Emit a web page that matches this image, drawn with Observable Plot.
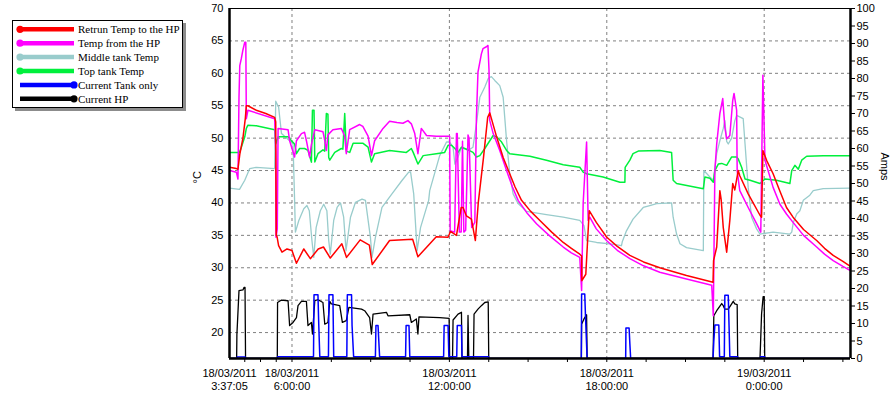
<!DOCTYPE html>
<html><head><meta charset="utf-8">
<script src="https://cdn.jsdelivr.net/npm/d3@7"></script>
<script src="https://cdn.jsdelivr.net/npm/@observablehq/plot@0.6"></script>
<style>
body{margin:0;background:#fff;}
#wrap{position:relative;width:893px;height:399px;overflow:hidden;}
#legend{position:absolute;left:12px;top:20px;width:169px;height:86px;border:1px solid #000;background:#fff;box-shadow:3px 3px 0 #8c8c8c;}
</style>
</head><body>
<div id="wrap"><div id="legend"></div></div>
<script>
// ---- Data (hours since 18/03/2011 00:00, value) ----
const seriesNames = ["Retrun Temp to the HP","Temp from the HP","Middle tank Temp","Top tank Temp","Current Tank only","Current HP"];
const seriesColors = ["#ff0000","#ff00ff","#99cccc","#00f03c","#0000ff","#000000"];

const returnTemp = [[3.618,45.5],[3.88,45.3],[3.94,45.2],[4.01,47.5],[4.13,50],[4.22,53],[4.26,55.0],[4.32,55.0],[4.64,54.3],[5.0,53.8],[5.34,53.2],[5.38,52.5],[5.40,35],[5.43,34.8],[5.49,33.4],[5.62,32.4],[5.81,32.9],[6.0,32.65],[6.17,30.7],[6.45,32.9],[6.70,31.4],[7.0,32.9],[7.2,33.2],[7.46,31.5],[7.9,33.7],[8.08,31.6],[8.6,34.3],[8.95,33.5],[9.06,30.5],[9.72,34.2],[10.6,34.4],[10.8,31.7],[11.5,34.8],[11.95,34.7],[12.04,35.6],[12.27,35.0],[12.45,39.3],[12.52,39.3],[12.65,38.0],[12.84,37.5],[12.99,34.2],[13.1,40],[13.3,47],[13.46,53.2],[13.54,53.9],[13.8,50.2],[14.05,47.0],[14.3,44.5],[14.5,42.5],[14.75,40.4],[15.1,38.7],[15.45,37.3],[15.9,35.5],[16.34,33.9],[16.65,33.0],[16.97,32.1],[17.04,31.8],[17.05,28.0],[17.20,29],[17.33,38.8],[17.6,37.0],[18.0,34.7],[18.4,33.3],[18.88,31.9],[19.4,30.9],[20.02,30.0],[21.04,28.8],[22.05,27.75],[22.07,31.1],[22.19,33.2],[22.31,41.9],[22.36,40.5],[22.44,36.2],[22.57,32.4],[22.69,37.3],[22.80,43.0],[22.88,42.0],[23.01,45.0],[23.07,44.2],[23.39,41.4],[23.84,38.1],[23.90,37.8],[23.95,48.1],[24.1,46.5],[24.34,44.5],[24.6,41.8],[24.85,39.3],[25.1,37.8],[25.5,35.9],[26.0,34.2],[26.3,33.0],[26.63,31.9],[27.0,31.0],[27.29,30.2]];

const fromTemp = [[3.618,45.0],[3.88,44.75],[3.94,43.7],[3.98,56.3],[4.01,61.2],[4.07,62.3],[4.13,63.6],[4.20,64.8],[4.24,64.8],[4.26,53.0],[4.32,54.3],[5.34,53.0],[5.38,48],[5.39,34.7],[5.44,36],[5.47,51.5],[5.85,51.3],[5.91,49.6],[6.10,47.1],[6.17,49.6],[6.36,50.7],[6.48,50.9],[6.55,49.6],[6.67,47.1],[6.74,49],[6.87,51.3],[7.18,51.0],[7.25,49.6],[7.31,48.1],[7.37,50.5],[7.56,51.3],[7.88,51.5],[8.01,50.3],[8.07,47.6],[8.2,51.3],[8.58,52.1],[8.7,51.8],[8.9,50.3],[9.03,47.3],[9.15,49.6],[9.47,51.5],[9.72,52.6],[10.0,52.4],[10.23,52.3],[10.42,52.7],[10.55,52.2],[10.68,50.7],[10.80,47.6],[10.93,51.5],[11.13,50.4],[11.5,50.3],[12.01,50.3],[12.03,35.7],[12.2,35.5],[12.27,50.7],[12.30,50.7],[12.38,35.5],[12.45,35.5],[12.5,49.5],[12.55,35.5],[12.62,35.8],[12.71,50.5],[12.75,50],[12.85,36.2],[12.97,37],[13.03,53.2],[13.09,60.2],[13.22,63.0],[13.28,63.8],[13.41,64.1],[13.47,64.3],[13.51,60.5],[13.54,52.7],[13.67,50.7],[13.92,48.1],[14.18,45.0],[14.4,42.5],[14.62,40.4],[14.95,38.5],[15.32,36.8],[15.8,35.0],[16.34,33.2],[16.65,32.3],[16.97,31.6],[17.04,26.5],[17.10,40],[17.23,49.4],[17.29,37.3],[17.35,37.8],[17.6,36.0],[17.99,34.2],[18.4,32.7],[18.88,31.4],[19.4,30.3],[20.02,29.3],[21.0,28.3],[22.0,27.3],[22.06,22.6],[22.12,45.0],[22.19,49.1],[22.31,53.8],[22.42,56.1],[22.50,51.7],[22.57,49.9],[22.69,50.4],[22.80,55.8],[22.85,56.9],[22.95,54.3],[22.97,45.0],[23.07,41.9],[23.39,39.3],[23.71,36.8],[23.87,35.5],[23.95,59.7],[24.03,46.6],[24.34,42.4],[24.6,39.8],[24.85,38.3],[25.1,37.0],[25.5,35.0],[26.0,33.2],[26.3,32.1],[26.63,31.1],[27.0,30.2],[27.29,29.55]];

const middleTemp = [[3.618,42.3],[4.0,42.1],[4.20,43.5],[4.39,45.3],[4.64,45.5],[5.34,45.3],[5.38,55.7],[5.49,54.8],[5.60,50.7],[5.91,49.6],[6.04,49.1],[6.10,40.4],[6.13,35.5],[6.26,37.3],[6.45,39.1],[6.57,39.6],[6.66,38.8],[6.76,34.2],[6.83,31.6],[6.92,36.2],[7.08,38.8],[7.21,39.8],[7.33,38.8],[7.40,34.2],[7.46,32.1],[7.59,37.3],[7.72,39.3],[7.85,40.0],[7.97,37.8],[8.06,32.65],[8.23,37.8],[8.42,40.1],[8.67,40.6],[8.80,40.4],[8.99,34.7],[9.05,31.6],[9.18,34.7],[9.43,39.3],[9.81,41.4],[10.20,43.5],[10.45,44.75],[10.52,44.8],[10.64,41.4],[10.77,32.65],[10.90,36.2],[11.21,40.4],[11.25,41.9],[11.63,47.3],[11.89,49.4],[12.01,49.4],[12.14,48.6],[12.21,46.0],[12.33,47.1],[12.46,48.6],[12.71,48.1],[12.90,48.6],[13.03,52.2],[13.16,56.3],[13.35,57.9],[13.48,59.2],[13.60,59.5],[13.73,58.9],[13.92,58.1],[14.05,56.3],[14.11,53.2],[14.18,49.6],[14.30,44.5],[14.43,41.4],[14.62,39.9],[14.94,38.7],[15.70,38.2],[16.34,37.8],[16.97,37.3],[17.13,36.5],[17.23,34.2],[17.61,33.9],[18.12,33.7],[18.56,33.4],[18.59,34],[18.75,35.7],[19.0,37.5],[19.39,39.3],[19.64,39.6],[19.90,39.9],[20.47,40.0],[20.53,37.8],[20.66,35.2],[20.79,33.7],[21.04,33.1],[21.68,32.65],[21.70,45.0],[21.93,44.0],[22.06,43.5],[22.19,47.6],[22.31,49.6],[22.44,51.5],[22.50,52.7],[22.57,49.5],[22.63,49.1],[22.76,50],[22.88,52.7],[22.95,53.5],[23.20,53.0],[23.27,49.1],[23.39,42.4],[23.52,37.8],[23.71,36.0],[23.84,35.2],[24.34,35.5],[24.98,35.2],[25.05,35.5],[25.11,37],[25.24,38.3],[25.36,38.8],[25.49,40.4],[25.74,41.2],[25.87,41.9],[26.25,42.2],[27.29,42.3]];

const topTemp = [[3.618,47.8],[4.0,47.8],[4.07,48.6],[4.20,50.2],[4.26,51.5],[4.32,52.0],[4.64,51.9],[5.34,51.3],[5.38,49.1],[5.47,50.2],[5.85,50.2],[5.98,49.6],[6.10,49.1],[6.17,47.6],[6.29,48.4],[6.48,48.4],[6.61,48.1],[6.74,46.3],[6.78,54.3],[6.84,54.3],[6.87,46.3],[6.99,47.6],[7.18,48.2],[7.25,48.0],[7.31,53.8],[7.37,53.7],[7.40,47.0],[7.44,46.6],[7.63,47.8],[7.88,48.4],[7.94,48.3],[8.01,53.8],[8.07,48],[8.2,47.8],[8.33,49.2],[8.71,49.2],[8.90,48.6],[9.03,46.3],[9.15,47.6],[9.72,48.1],[10.36,47.8],[10.55,48.4],[10.62,47.8],[10.80,46.0],[11.0,47.3],[11.5,47.6],[11.82,47.8],[11.95,48.9],[12.08,48.9],[12.21,48.4],[12.33,47.8],[12.46,48.6],[12.71,48.2],[12.90,47.8],[13.03,47.1],[13.16,47.3],[13.35,48.4],[13.54,49.6],[13.67,50.4],[13.80,50.2],[13.99,49.4],[14.18,48.1],[14.30,47.6],[15.07,47.2],[15.70,46.6],[16.34,45.9],[16.97,45.5],[17.10,44.75],[17.23,44.5],[17.86,44.0],[18.50,43.2],[18.69,43.2],[18.70,45.5],[18.88,46.6],[19.0,47.6],[19.20,48.0],[20.02,48.1],[20.47,47.8],[20.53,43.5],[20.66,43.0],[21.68,42.2],[21.74,44.0],[21.93,43.8],[22.06,43.2],[22.12,45.0],[22.25,46.0],[22.38,46.1],[22.57,45.8],[22.76,47.1],[22.95,47.1],[23.01,46.8],[23.14,45.5],[23.27,43.7],[23.46,43.5],[23.84,43.0],[24.03,43.7],[24.47,43.5],[24.98,43.0],[25.05,45.0],[25.17,45.8],[25.30,45.2],[25.43,46.6],[25.62,47.2],[26.25,47.3],[27.29,47.3]];

const currentTank = [[3.618,0],[3.90,0],[3.91,0.4],[4.22,0.4],[4.23,0],[5.44,0],[5.45,0.5],[6.82,0.5],[6.84,18.2],[6.99,18.2],[7.02,9.8],[7.06,0.5],[7.39,0.5],[7.41,18.2],[7.56,18.2],[7.59,0.5],[8.09,0.5],[8.11,18.2],[8.27,18.2],[8.29,9.4],[8.35,0.5],[9.18,0.5],[9.20,9.4],[9.28,9.4],[9.34,0.5],[10.33,0.5],[10.35,9.4],[10.46,9.4],[10.49,0.5],[11.78,0.5],[11.80,9.4],[11.95,9.4],[11.98,0.5],[12.28,0.5],[12.30,9.4],[12.46,9.4],[12.48,0.5],[13.50,0.5],[13.51,0],[17.03,0],[17.04,18.4],[17.16,18.4],[17.19,11.7],[17.25,0],[18.72,0],[18.73,8.7],[18.85,8.7],[18.88,4.1],[18.91,0],[22.05,0],[22.08,5.1],[22.12,9.55],[22.27,9.55],[22.30,0.5],[22.48,0.5],[22.50,18.1],[22.63,18.1],[22.66,9.4],[22.69,0.5],[22.99,0.5],[23.0,0],[23.85,0],[23.86,0.5],[24.02,0.5],[24.03,0],[27.29,0]];

const currentHP = [[3.618,0],[3.89,0],[3.90,6.8],[3.98,19.4],[4.13,19.6],[4.17,20.3],[4.21,20.3],[4.22,9.8],[4.23,0],[5.44,0],[5.45,16.0],[5.60,16.7],[5.85,16.5],[5.91,9.4],[6.04,10.3],[6.17,11.7],[6.23,15.1],[6.36,16.3],[6.55,16.3],[6.61,9.4],[6.74,10.3],[6.78,7.0],[6.87,16.5],[6.99,16.8],[7.18,16.0],[7.25,9.8],[7.37,10.3],[7.44,16.3],[7.50,15.6],[7.82,15.1],[7.92,10.3],[8.07,10.8],[8.17,14.6],[8.65,14.1],[8.77,13.65],[8.96,11.7],[9.03,7.0],[9.09,12.7],[9.60,13.2],[9.66,12.2],[10.49,12.5],[10.55,10.3],[10.74,11.3],[10.80,7.0],[10.84,11.9],[11.63,11.7],[11.99,11.45],[12.01,0],[12.12,0],[12.14,11.0],[12.33,12.7],[12.46,13.2],[12.48,0],[12.69,0],[12.71,12.3],[12.74,0],[12.92,0],[12.94,12.7],[13.09,14.1],[13.22,15.1],[13.35,16.0],[13.48,16.2],[13.50,0],[17.03,0],[17.04,9.8],[17.13,11.3],[17.23,12.5],[17.25,0],[22.05,0],[22.08,12.2],[22.19,13.65],[22.38,15.7],[22.44,15.1],[22.50,14.1],[22.63,14.1],[22.76,15.6],[22.82,16.3],[22.88,15.6],[22.97,15.4],[22.99,0],[23.84,0],[23.86,4.1],[23.90,12.7],[23.96,17.7],[24.00,17.7],[24.02,0],[27.29,0]];

// axis values
const tempTicks = [20,25,30,35,40,45,50,55,60,65,70];
const ampTicks = d3.range(0, 101, 5);
const xLabelHours = [3 + 37/60 + 5/3600, 6, 12, 18, 24];
const xLabelDates = ["18/03/2011","18/03/2011","18/03/2011","18/03/2011","19/03/2011"];
const xLabelTimes = ["3:37:05","6:00:00","12:00:00","18:00:00","0:00:00"];
const xTickHours = [4.2, 4.8, 5.4, 6, 7.5, 9, 10.5, 12, 13.5, 15, 16.5, 18, 19.5, 21, 22.5, 24, 25.5, 27];
const xGridHours = [6, 12, 18, 24];
const startH = 3 + 37/60 + 5/3600, endH = 27.29;
const tempDomain = [16, 70];
const ampDomain = [0, 100];

// ---- helpers ----
const T0 = Date.UTC(2011, 2, 18);
const toDate = h => new Date(T0 + h * 3600000);
const ampToY = a => tempDomain[0] + (a - ampDomain[0]) * (tempDomain[1] - tempDomain[0]) / (ampDomain[1] - ampDomain[0]);
const yToAmp = y => Math.round(ampDomain[0] + (y - tempDomain[0]) * (ampDomain[1] - ampDomain[0]) / (tempDomain[1] - tempDomain[0]));
const dateLab = new Map(xLabelHours.map((h, i) => [+toDate(h), xLabelDates[i]]));
const timeLab = new Map(xLabelHours.map((h, i) => [+toDate(h), xLabelTimes[i]]));

const gridStyle = {stroke: "#808080", strokeOpacity: 1, strokeDasharray: "3,3", strokeWidth: 1};
const lw = 1.3;

const marks = [
  Plot.gridY({ticks: tempTicks.filter(t => t < 70), ...gridStyle}),
  Plot.gridX({ticks: xGridHours.map(toDate), ...gridStyle}),
  // current lines (right axis)
  Plot.line(currentHP, {x: d => toDate(d[0]), y: d => ampToY(d[1]), stroke: seriesColors[5], strokeWidth: lw, clip: true}),
  Plot.line(currentTank, {x: d => toDate(d[0]), y: d => ampToY(d[1]), stroke: seriesColors[4], strokeWidth: 1.5, clip: true}),
  // temperature lines
  Plot.line(middleTemp, {x: d => toDate(d[0]), y: d => d[1], stroke: seriesColors[2], strokeWidth: lw, clip: true}),
  Plot.line(topTemp, {x: d => toDate(d[0]), y: d => d[1], stroke: seriesColors[3], strokeWidth: 1.5, clip: true}),
  Plot.line(fromTemp, {x: d => toDate(d[0]), y: d => d[1], stroke: seriesColors[1], strokeWidth: 1.5, clip: true}),
  Plot.line(returnTemp, {x: d => toDate(d[0]), y: d => d[1], stroke: seriesColors[0], strokeWidth: 1.5, clip: true}),
  // frame
  Plot.ruleY([tempDomain[1]], {stroke: "#000", strokeWidth: 1.2}),
  Plot.ruleY([tempDomain[0]], {stroke: "#000", strokeWidth: 2.5}),
  Plot.ruleX([toDate(startH)], {stroke: "#000", strokeWidth: 2.5}),
  Plot.ruleX([toDate(endH)], {stroke: "#000", strokeWidth: 2.5}),
  // left axis
  Plot.axisY({anchor: "left", ticks: tempTicks, tickSize: 0, tickPadding: 6, label: null}),
  Plot.text(["°C"], {frameAnchor: "left", dx: -32, rotate: -90, fontSize: 11}),
  // right axis (amps)
  Plot.axisY({anchor: "right", ticks: ampTicks.map(ampToY), tickFormat: yToAmp, tickSize: 4, tickPadding: 2, label: null}),
  Plot.text(["Amps"], {frameAnchor: "right", dx: 34, dy: -3, rotate: 90, fontSize: 11}),
  // x axis
  Plot.axisX({ticks: xTickHours.map(toDate), tickSize: 4, tickFormat: () => "", label: null}),
  Plot.axisX({ticks: xLabelHours.map(toDate), tickSize: 0, tickPadding: 11, tickFormat: d => dateLab.get(+d), label: null}),
  Plot.axisX({ticks: xLabelHours.map(toDate), tickSize: 0, tickPadding: 24, tickFormat: d => timeLab.get(+d), label: null})
];

const chart = Plot.plot({
  width: 893, height: 399,
  marginLeft: 229, marginRight: 43, marginTop: 8, marginBottom: 41,
  style: {fontFamily: "'Liberation Sans', Arial, sans-serif", fontSize: "11px", background: "#fff", color: "#000"},
  x: {type: "utc", domain: [toDate(startH), toDate(endH)]},
  y: {domain: tempDomain},
  marks
});
document.getElementById("wrap").prepend(chart);

// ---- legend ----
const lg = d3.select("#legend").append("svg").attr("width", 169).attr("height", 86);
seriesNames.forEach((name, i) => {
  const cy = 8.3 + i * 13.9;
  const g = lg.append("g");
  g.append("line").attr("x1", 7).attr("x2", 61).attr("y1", cy).attr("y2", cy)
    .attr("stroke", seriesColors[i]).attr("stroke-width", 4.5);
  g.append("circle").attr("cx", i < 4 ? 7 : 61).attr("cy", cy).attr("r", 3.6).attr("fill", seriesColors[i]);
  g.append("text").attr("x", 65).attr("y", cy).attr("dy", "0.35em")
    .attr("font-family", "'Liberation Serif', 'Times New Roman', serif").attr("font-size", 11)
    .attr("fill", "#000").text(name);
});
</script>
</body></html>
